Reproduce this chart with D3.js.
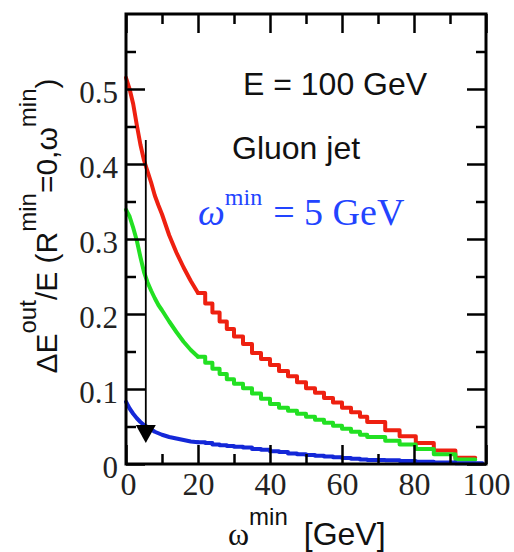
<!DOCTYPE html>
<html>
<head>
<meta charset="utf-8">
<script src="https://cdn.jsdelivr.net/npm/d3@7"></script>
<style>
  body { margin: 0; background: #fff; }
  svg { display: block; }
</style>
</head>
<body>
<div id="chart"></div>
<script>
// omega^min grid (GeV), each value is the level of the curve there
var omegaGrid = [0, 1, 2, 3, 4, 5, 6, 7, 8, 9, 10,
  12, 14, 16, 18, 20, 22, 24, 26, 28, 30,
  32.5, 35, 37.5, 40, 42.5, 45, 47.5, 50, 52.5, 55, 57.5, 60, 62.5, 65,
  67, 72, 76, 80.5, 85.5, 91.5];

var redValues = [0.515, 0.500, 0.480, 0.452, 0.426, 0.405, 0.390, 0.375, 0.358, 0.345, 0.333,
  0.305, 0.282, 0.262, 0.244, 0.228, 0.214, 0.202, 0.190, 0.180, 0.170,
  0.160, 0.148, 0.140, 0.132, 0.124, 0.117, 0.109, 0.101, 0.095, 0.088, 0.082, 0.075, 0.069, 0.063,
  0.056, 0.045, 0.037, 0.028, 0.018, 0.0085];

var greenValues = [0.339, 0.330, 0.315, 0.298, 0.276, 0.256, 0.242, 0.231, 0.221, 0.212, 0.205,
  0.190, 0.176, 0.163, 0.152, 0.143, 0.135, 0.127, 0.120, 0.113, 0.107,
  0.101, 0.094, 0.087, 0.080, 0.075, 0.071, 0.067, 0.063, 0.059, 0.055, 0.051, 0.047, 0.043, 0.039,
  0.036, 0.031, 0.026, 0.020, 0.013, 0.006];

var blueValues = [0.083, 0.074, 0.067, 0.061, 0.056, 0.052, 0.049, 0.046, 0.043, 0.041, 0.039,
  0.036, 0.034, 0.032, 0.030, 0.029, 0.028, 0.026, 0.025, 0.024, 0.023,
  0.022, 0.020, 0.019, 0.017, 0.016, 0.014, 0.013, 0.012, 0.011, 0.010, 0.009, 0.008, 0.007, 0.006,
  0.0055, 0.005, 0.004, 0.003, 0.002, 0.001];

// where each curve stops on the omega axis
var seriesEnd = [97, 97, 99];
// below this the histogram looks smooth, above it the bins show as steps
var stepFrom = 20;

// axis ticks
var xMajor = [0, 20, 40, 60, 80, 100];
var xMinor = [10, 30, 50, 70, 90];
var yMajor = [0, 0.1, 0.2, 0.3, 0.4, 0.5];
var yMinor = [0.05, 0.15, 0.25, 0.35, 0.45, 0.55];

// arrow marking omega^min = 5 GeV
var arrowOmega = 5.5;
var arrowFrom = 0.432;
var arrowTo = 0.028;

var width = 514, height = 552;

var x = d3.scaleLinear().domain([0, 100]).range([126, 486]);
var y = d3.scaleLinear().domain([0, 0.6]).range([464, 14]);

var svg = d3.select("#chart").append("svg")
  .attr("width", width)
  .attr("height", height);

// curves: smooth head, stepped tail
var headLine = d3.line()
  .x(function(d) { return x(d[0]); })
  .y(function(d) { return y(d[1]); });

var tailLine = d3.line()
  .x(function(d) { return x(d[0]); })
  .y(function(d) { return y(d[1]); })
  .curve(d3.curveStepAfter);

var series = [
  {values: redValues, color: "#ee2010"},
  {values: greenValues, color: "#22e022"},
  {values: blueValues, color: "#1428d8"}
];

series.forEach(function(s, k) {
  var pts = omegaGrid.map(function(w, i) { return [w, s.values[i]]; });
  pts.push([seriesEnd[k], s.values[s.values.length - 1]]);
  var head = pts.filter(function(d) { return d[0] <= stepFrom; });
  var tail = pts.filter(function(d) { return d[0] >= stepFrom; });
  [[head, headLine], [tail, tailLine]].forEach(function(p) {
    svg.append("path")
      .datum(p[0])
      .attr("fill", "none")
      .attr("stroke", s.color)
      .attr("stroke-width", 4)
      .attr("stroke-linejoin", "round")
      .attr("stroke-linecap", "round")
      .attr("d", p[1]);
  });
});

// axes with inward ticks on all four sides
function styleAxis(g) {
  g.select(".domain").remove();
  g.selectAll(".tick line").attr("stroke", "#000").attr("stroke-width", 2.5);
}

svg.append("g")
  .attr("transform", "translate(0,464)")
  .call(d3.axisBottom(x).tickValues(xMajor).tickSize(-19).tickPadding(8).tickFormat(d3.format("d")))
  .call(styleAxis)
  .selectAll("text")
  .attr("dx", function(d) { return d === 0 ? 2 : 0; })
  .style("font-family", "Liberation Serif, Times New Roman, serif")
  .style("font-size", "32px")
  .attr("fill", "#222");

svg.append("g")
  .attr("transform", "translate(0,464)")
  .call(d3.axisBottom(x).tickValues(xMinor).tickSize(-10).tickFormat(""))
  .call(styleAxis);

svg.append("g")
  .attr("transform", "translate(0,14)")
  .call(d3.axisTop(x).tickValues(xMajor).tickSize(-19).tickFormat(""))
  .call(styleAxis);

svg.append("g")
  .attr("transform", "translate(0,14)")
  .call(d3.axisTop(x).tickValues(xMinor).tickSize(-10).tickFormat(""))
  .call(styleAxis);

svg.append("g")
  .attr("transform", "translate(126,0)")
  .call(d3.axisLeft(y).tickValues(yMajor).tickSize(-19).tickPadding(8)
    .tickFormat(function(d) { return d === 0 ? "0" : d3.format(".1f")(d); }))
  .call(styleAxis)
  .selectAll("text")
  .attr("dy", "0.42em")
  .style("font-family", "Liberation Serif, Times New Roman, serif")
  .style("font-size", "31px")
  .attr("fill", "#222");

svg.append("g")
  .attr("transform", "translate(126,0)")
  .call(d3.axisLeft(y).tickValues(yMinor).tickSize(-10).tickFormat(""))
  .call(styleAxis);

svg.append("g")
  .attr("transform", "translate(486,0)")
  .call(d3.axisRight(y).tickValues(yMajor).tickSize(-19).tickFormat(""))
  .call(styleAxis);

svg.append("g")
  .attr("transform", "translate(486,0)")
  .call(d3.axisRight(y).tickValues(yMinor).tickSize(-10).tickFormat(""))
  .call(styleAxis);

// frame
svg.append("rect")
  .attr("x", x(0))
  .attr("y", y(0.6))
  .attr("width", x(100) - x(0))
  .attr("height", y(0) - y(0.6))
  .attr("fill", "none")
  .attr("stroke", "#000")
  .attr("stroke-width", 3);

// arrow
svg.append("line")
  .attr("x1", x(arrowOmega))
  .attr("x2", x(arrowOmega))
  .attr("y1", y(arrowFrom))
  .attr("y2", y(arrowTo) - 10)
  .attr("stroke", "#000")
  .attr("stroke-width", 1.8);

var tipX = x(arrowOmega), tipY = y(arrowTo);
svg.append("path")
  .attr("d", "M" + tipX + "," + tipY + "L" + (tipX - 10) + "," + (tipY - 18) + "L" + (tipX + 10) + "," + (tipY - 18) + "Z")
  .attr("fill", "#000");

// annotations
var sans = "Liberation Sans, Arial, Helvetica, sans-serif";
var serif = "Liberation Serif, Times New Roman, serif";

svg.append("text")
  .attr("x", 243)
  .attr("y", 95)
  .style("font-family", sans)
  .style("font-size", "32px")
  .attr("fill", "#111")
  .text("E = 100 GeV");

svg.append("text")
  .attr("x", 232)
  .attr("y", 159)
  .style("font-family", sans)
  .style("font-size", "32px")
  .attr("fill", "#111")
  .text("Gluon jet");

var blueNote = svg.append("text")
  .attr("x", 198)
  .attr("y", 225)
  .style("font-family", serif)
  .attr("fill", "#2244ff");
blueNote.append("tspan").style("font-style", "italic").style("font-size", "38px").text("ω");
blueNote.append("tspan").style("font-size", "24px").attr("dy", -20).text("min");
blueNote.append("tspan").style("font-size", "38px").attr("dy", 20).attr("dx", 11).text("= 5 GeV");

// x axis title
var xTitle = svg.append("text")
  .attr("x", 228)
  .attr("y", 545)
  .attr("fill", "#111");
xTitle.append("tspan").style("font-family", serif).style("font-size", "32px").text("ω");
xTitle.append("tspan").style("font-family", sans).style("font-size", "24px").attr("dy", -20).text("min");
xTitle.append("tspan").style("font-family", sans).style("font-size", "32px").attr("dy", 20).attr("dx", 16).text("[GeV]");

// y axis title
var yTitle = svg.append("text")
  .attr("transform", "translate(57,226) rotate(-90)")
  .attr("text-anchor", "middle")
  .style("font-family", sans)
  .attr("fill", "#111");
yTitle.append("tspan").style("font-size", "30px").text("ΔE");
yTitle.append("tspan").style("font-size", "24px").attr("dy", -21).text("out");
yTitle.append("tspan").style("font-size", "30px").attr("dy", 21).text("/E (R");
yTitle.append("tspan").style("font-size", "24px").attr("dy", -21).text("min");
yTitle.append("tspan").style("font-size", "30px").attr("dy", 21).text("=0,ω");
yTitle.append("tspan").style("font-size", "24px").attr("dy", -21).text("min");
yTitle.append("tspan").style("font-size", "30px").attr("dy", 21).text(")");
</script>
</body>
</html>
